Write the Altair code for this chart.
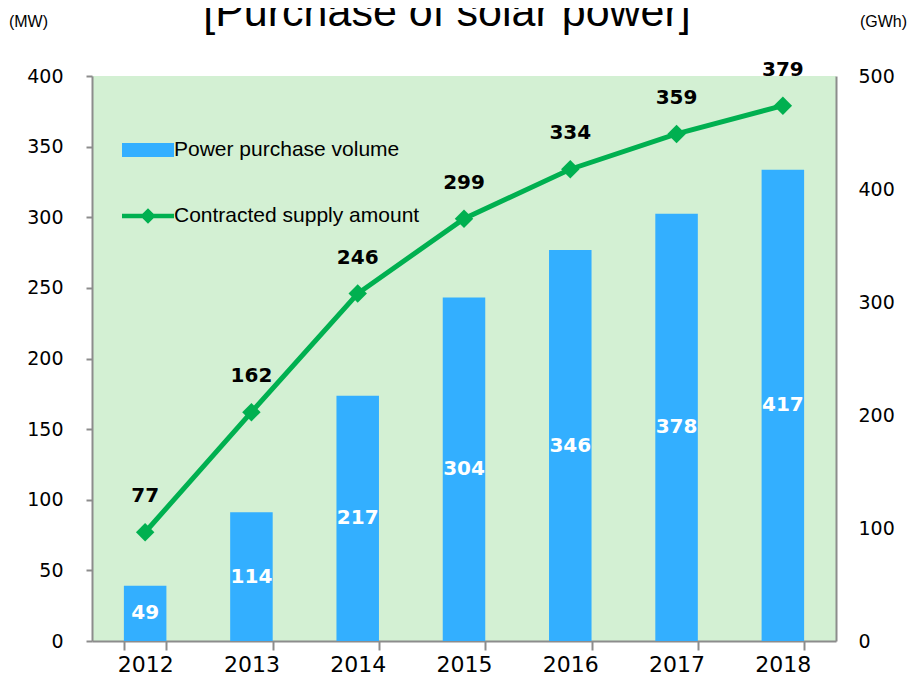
import altair as alt
import pandas as pd

years = ["2012", "2013", "2014", "2015", "2016", "2017", "2018"]
purchase_gwh = [49, 114, 217, 304, 346, 378, 417]
contracted_mw = [77, 162, 246, 299, 334, 359, 379]
bar_series = "Power purchase volume"
line_series = "Contracted supply amount"

df = pd.DataFrame({
    "year": years,
    "purchase": purchase_gwh,
    "contracted": contracted_mw,
    "s1": [bar_series] * len(years),
    "s2": [line_series] * len(years),
})

BLUE = "#33AFFF"
GREEN = "#00B050"
GRAY = "#8C8C8C"
BG = "#D3F0D3"

x = alt.X(
    "year:N",
    scale=alt.Scale(paddingInner=0.6, paddingOuter=0.3),
    axis=alt.Axis(
        title=None, labelAngle=0, labelFont="DejaVu Sans", labelFontSize=22,
        labelColor="black", tickBand="extent", tickSize=9, tickColor=GRAY,
        tickWidth=2, domainColor=GRAY, domainWidth=2, labelPadding=4,
    ),
)

right_axis = alt.Axis(
    orient="right", values=[0, 100, 200, 300, 400, 500], grid=False,
    ticks=False, domainColor=GRAY, domainWidth=2, labelFont="DejaVu Sans",
    labelFontSize=19, labelColor="black", labelPadding=22,
    title="(GWh)", titleAngle=0, titleFont="Liberation Sans", titleFontSize=16,
    titleFontWeight="normal", titleColor="black", titleX=47, titleY=-55,
    titleAlign="center", titleBaseline="middle",
)
left_axis = alt.Axis(
    orient="left", values=[0, 50, 100, 150, 200, 250, 300, 350, 400], grid=False,
    ticks=True, tickSize=6, tickColor=GRAY, tickWidth=2, domainColor=GRAY,
    domainWidth=2, labelFont="DejaVu Sans", labelFontSize=19, labelColor="black",
    labelPadding=23,
    title="(MW)", titleAngle=0, titleFont="Liberation Sans", titleFontSize=16,
    titleFontWeight="normal", titleColor="black", titleX=-64, titleY=-55,
    titleAlign="center", titleBaseline="middle",
)

yr = alt.Scale(domain=[0, 500], nice=False)
yl = alt.Scale(domain=[0, 400], nice=False)

base = alt.Chart(df)

bars = base.mark_bar(opacity=1).encode(
    x=x,
    y=alt.Y("purchase:Q", scale=yr, axis=right_axis),
    fill=alt.Fill(
        "s1:N", scale=alt.Scale(range=[BLUE]),
        legend=alt.Legend(
            title=None, orient="none", legendX=30, legendY=48, padding=0,
            symbolType="M-1,-0.27L1,-0.27L1,0.27L-1,0.27Z", symbolSize=2704,
            symbolStrokeWidth=0, symbolOpacity=1, labelFont="Liberation Sans",
            labelFontSize=21, labelColor="black", labelOffset=0, labelLimit=500,
        ),
    ),
)
bar_text = base.transform_calculate(half="datum.purchase / 2").mark_text(
    font="DejaVu Sans", fontSize=20, fontWeight="bold", color="white",
    baseline="middle",
).encode(
    x=x,
    y=alt.Y("half:Q", scale=yr, axis=right_axis),
    text="purchase:Q",
)
bar_group = alt.layer(bars, bar_text)

line = base.mark_line(color=GREEN, strokeWidth=5).encode(
    x=x,
    y=alt.Y("contracted:Q", scale=yl, axis=left_axis),
)
points = base.mark_point(shape="diamond", filled=True, size=340, opacity=1).encode(
    x=x,
    y=alt.Y("contracted:Q", scale=yl, axis=left_axis),
    fill=alt.Fill(
        "s2:N", scale=alt.Scale(range=[GREEN]),
        legend=alt.Legend(
            title=None, orient="none", legendX=30, legendY=114, padding=0,
            symbolType="M-1,-0.09L1,-0.09L1,0.09L-1,0.09Z M-0.3,0L0,-0.3L0.3,0L0,0.3Z",
            symbolSize=2704, symbolStrokeWidth=0, symbolOpacity=1,
            labelFont="Liberation Sans", labelFontSize=21, labelColor="black",
            labelOffset=0, labelLimit=500,
        ),
    ),
)
line_text = base.mark_text(
    font="DejaVu Sans", fontSize=20, fontWeight="bold", color="black",
    baseline="alphabetic", dy=-30,
).encode(
    x=x,
    y=alt.Y("contracted:Q", scale=yl, axis=left_axis),
    text="contracted:Q",
)
line_group = alt.layer(line, points, line_text)

chart = alt.layer(bar_group, line_group).resolve_scale(
    y="independent", fill="independent"
).resolve_legend(fill="independent").properties(
    width=744,
    height=565,
    padding={"left": 84, "top": 68, "right": 72, "bottom": 36},
    autosize=alt.AutoSizeParams(type="none"),
    title=alt.TitleParams(
        "[Purchase of solar power]", font="Liberation Sans", fontSize=43,
        fontWeight="normal", color="black", anchor="middle", frame="group",
        baseline="alphabetic", offset=-19, dx=-17, dy=37,
    ),
).configure(background="white").configure_view(fill=BG, strokeWidth=0)

chart.save("out.html", embed_options={"renderer": "svg", "actions": False})
